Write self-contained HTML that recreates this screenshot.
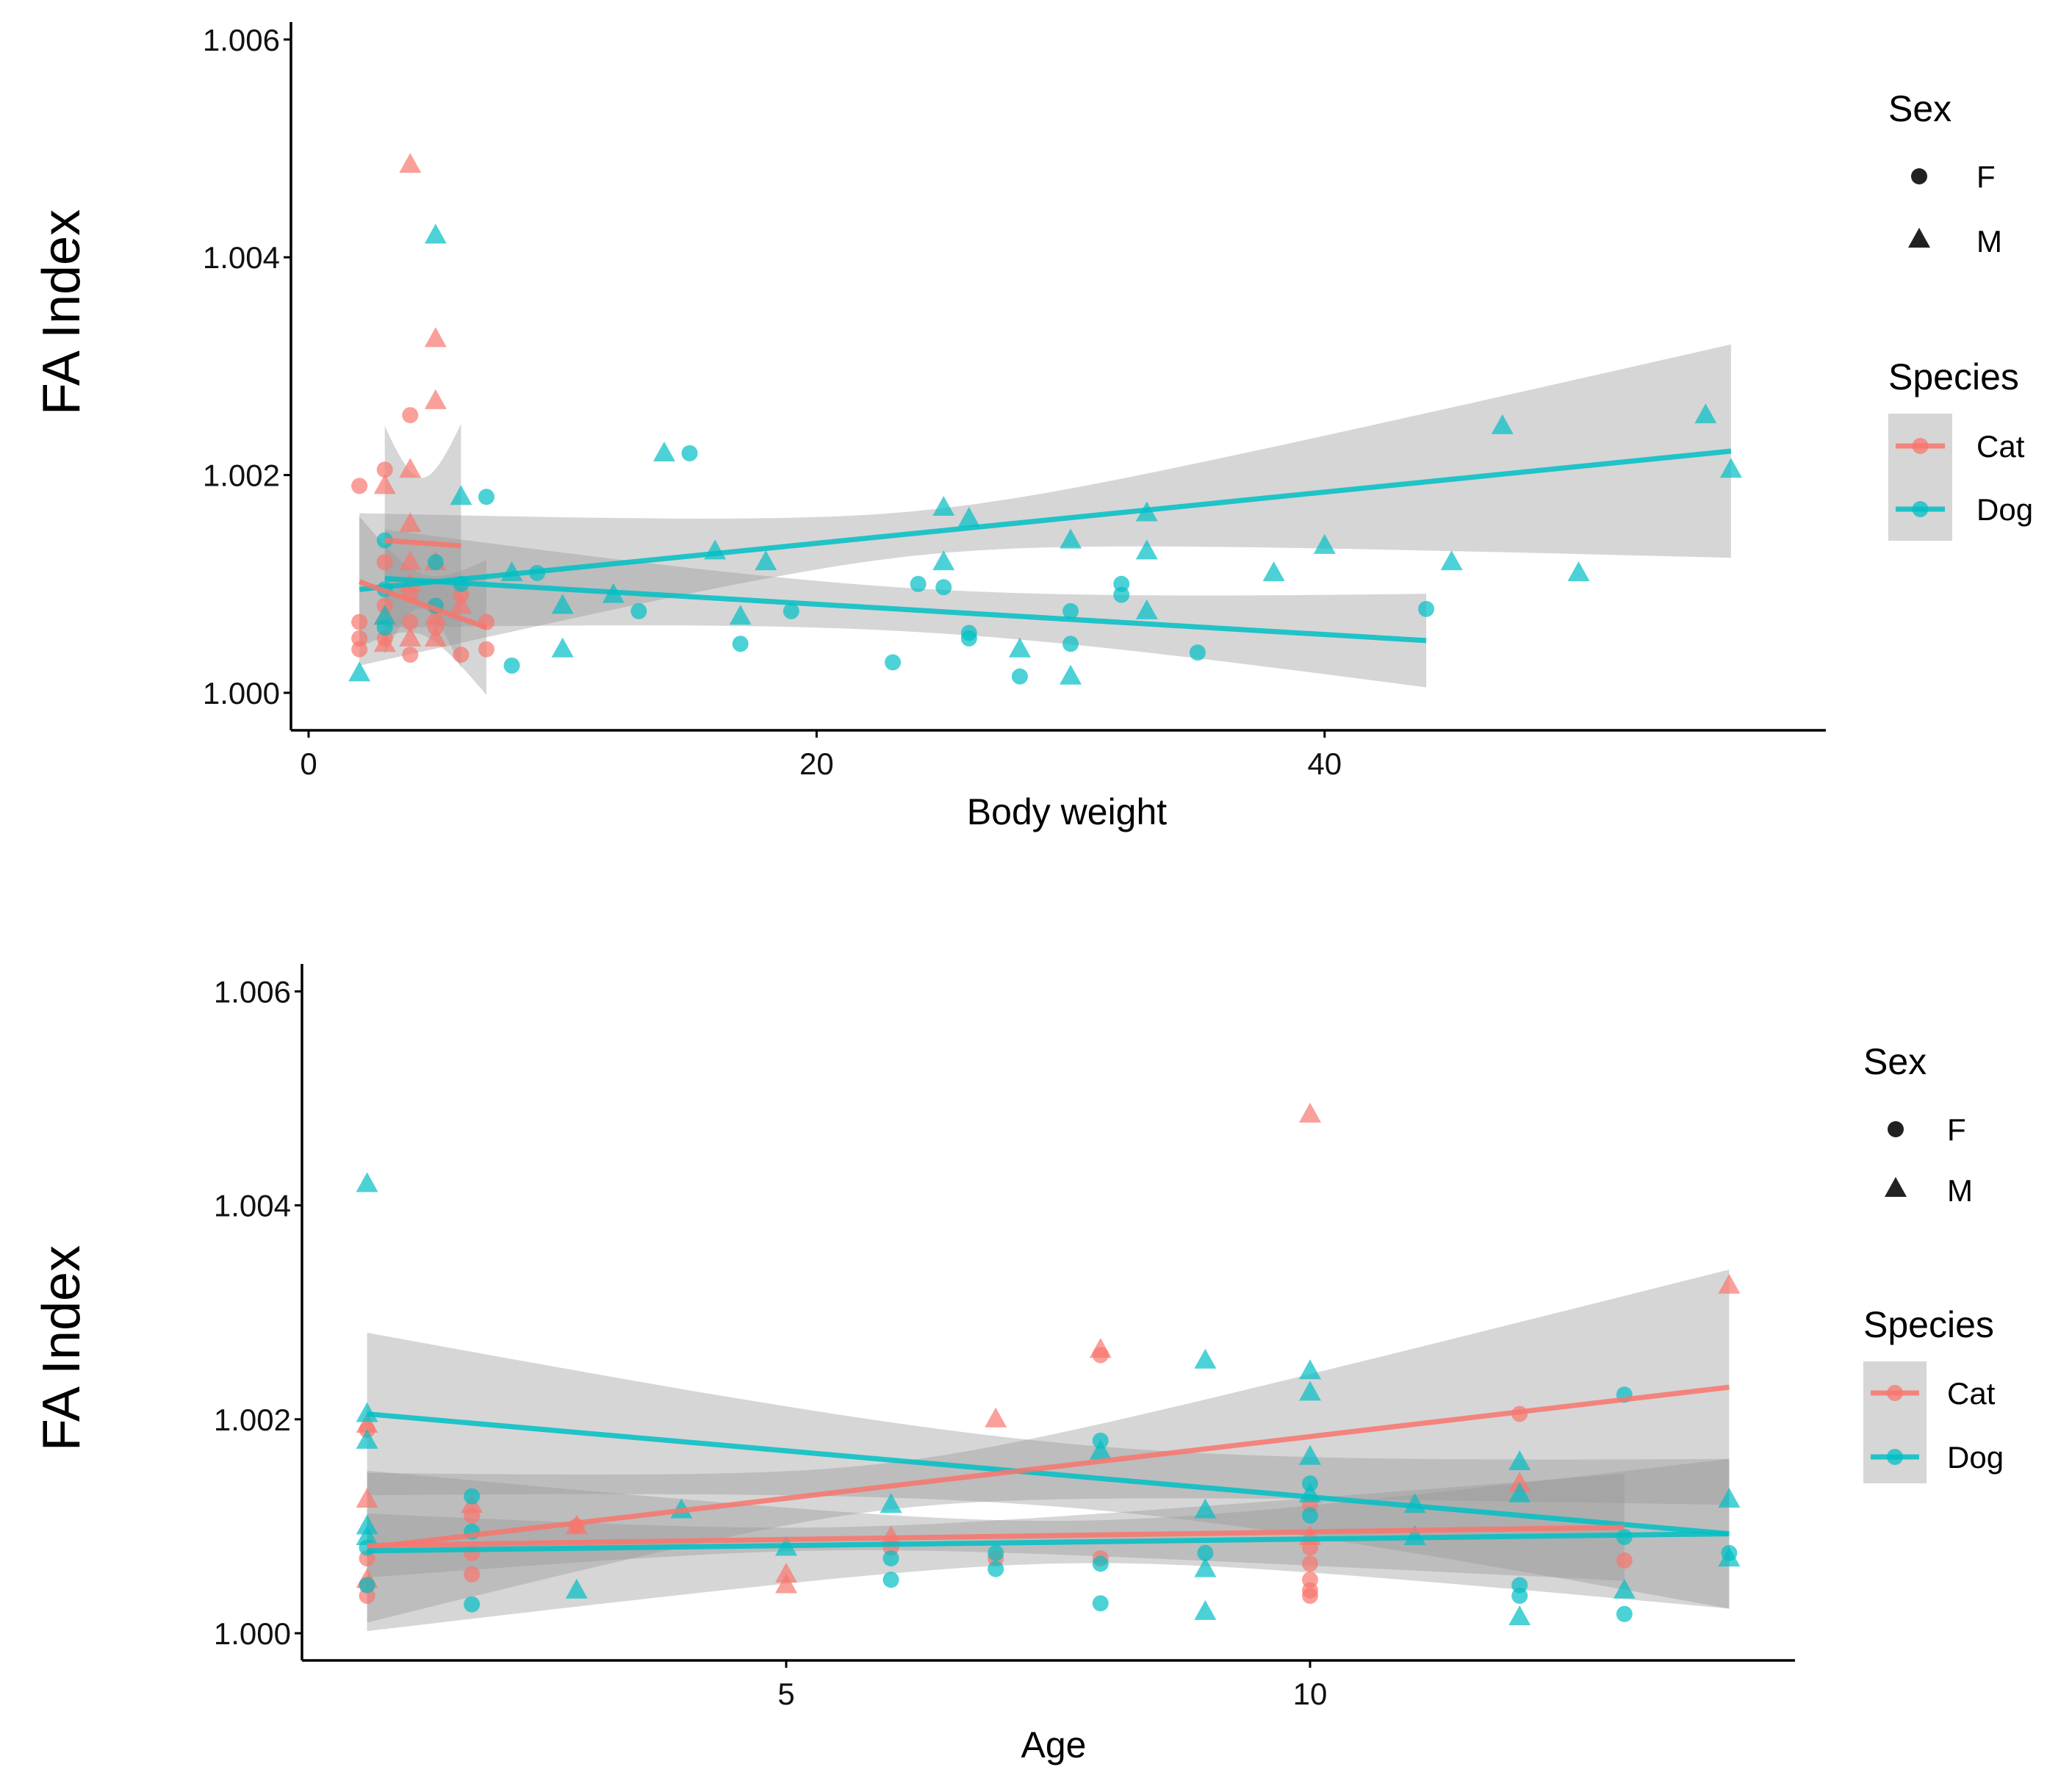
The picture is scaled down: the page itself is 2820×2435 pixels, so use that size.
<!DOCTYPE html>
<html><head><meta charset="utf-8"><style>
html,body{margin:0;padding:0;background:#fff}
svg{display:block;font-family:"Liberation Sans",Arial,sans-serif}
</style></head><body>
<svg id="chart" width="2820" height="2435" viewBox="0 0 2820 2435" xmlns="http://www.w3.org/2000/svg">
<rect width="2820" height="2435" fill="#fff"/>
<g id="top"></g>
<g id="bot"></g>
</svg>
<script>
// ---------- DATA: top panel (Body weight) ----------
const bwCatF_x=[2,3,4,2,2,2,3,3,4,4,5,6,6,7,7,3,4,5];
const bwCatF_y=[1.0019,1.00205,1.00255,1.00065,1.0005,1.0004,1.0012,1.0008,1.00065,1.00035,1.0008,1.00035,1.0009,1.00065,1.0004,1.0005,1.0009,1.0006];
const bwCatM_x=[4,5,5,4,3,4,4,5,3,3,4,5,5,6,4];
const bwCatM_y=[1.00485,1.00325,1.00268,1.00205,1.0019,1.00155,1.0012,1.0012,1.0007,1.00045,1.0005,1.0005,1.0007,1.0008,1.001];
const bwDogF_x=[3,7,15,3,3,5,5,8,9,13,17,19,23,24,25,26,26,28,30,30,32,32,35,44,6];
const bwDogF_y=[1.0014,1.0018,1.0022,1.00095,1.0006,1.0012,1.0008,1.00025,1.0011,1.00075,1.00045,1.00075,1.00028,1.001,1.00097,1.00055,1.0005,1.00015,1.00075,1.00045,1.001,1.0009,1.00037,1.00077,1.001];
const bwDogM_x=[2,5,14,6,3,8,10,10,12,16,17,18,25,25,26,28,30,30,33,33,33,38,40,45,47,50,55,56];
const bwDogM_y=[1.00018,1.0042,1.0022,1.0018,1.0007,1.0011,1.0008,1.0004,1.0009,1.0013,1.0007,1.0012,1.0017,1.0012,1.0016,1.0004,1.0014,1.00015,1.00165,1.0013,1.00075,1.0011,1.00135,1.0012,1.00245,1.0011,1.00255,1.00205];
// fits: [xStart, xEnd, yStart, yEnd, halfStart, halfMid, halfEnd]
const bwFitCatM=[3,6,1.0014,1.00135,0.00105,0.0006,0.00112];
const bwFitCatF=[2,7,1.00102,1.0006,0.0006,0.00028,0.00062];
const bwFitDogM=[2,56,1.00095,1.00222,0.0007,0.00025,0.00098];
const bwFitDogF=[3,44,1.00105,1.00048,0.00045,0.0002,0.00043];
const bwXTicks=[0,20,40];
const yTicks=[1.000,1.002,1.004,1.006];
// ---------- DATA: bottom panel (Age) ----------
const agCatF_x=[1,1,1,1,2,2,2,3,6,7,8,8,10,10,10,10,10,12,13,10];
const agCatF_y=[1.0019,1.0007,1.00045,1.00035,1.0011,1.00075,1.00055,1.001,1.0008,1.0007,1.0026,1.0007,1.0008,1.00065,1.0005,1.0004,1.00035,1.00205,1.00068,1.0012];
const agCatM_x=[1,1,1,2,3,5,5,6,7,8,10,10,14,12];
const agCatM_y=[1.00195,1.00125,1.0005,1.0012,1.001,1.00055,1.00045,1.0009,1.002,1.00265,1.00485,1.0009,1.00325,1.0014];
const agDogF_x=[1,1,2,2,2,6,6,7,7,8,8,8,9,10,10,12,12,13,13,13,14];
const agDogF_y=[1.0008,1.00045,1.00128,1.00095,1.00027,1.0007,1.0005,1.00075,1.0006,1.0018,1.00065,1.00028,1.00075,1.0014,1.0011,1.00045,1.00035,1.00223,1.0009,1.00018,1.00075];
const agDogM_x=[1,1,1,1,1,3,4,5,6,8,9,9,9,9,10,10,10,10,11,11,12,12,12,13,14,14];
const agDogM_y=[1.0042,1.00205,1.0018,1.001,1.0009,1.0004,1.00115,1.0008,1.0012,1.0017,1.00255,1.00115,1.0006,1.0002,1.00245,1.00225,1.00165,1.0013,1.0012,1.0009,1.0016,1.0013,1.00015,1.0004,1.00125,1.0007];
const agFitDogM=[1,14,1.00205,1.00093,0.00076,0.0003,0.0007];
const agFitCatM=[1,14,1.0008,1.0023,0.0007,0.0003,0.0011];
const agFitCatF=[1,13,1.00082,1.00099,0.0003,0.00015,0.0005];
const agFitDogF=[1,14,1.00077,1.00093,0.00075,0.0002,0.0007];
const agXTicks=[5,10];

const NS='http://www.w3.org/2000/svg';
const CAT='#F8766D', DOG='#00BFC4';
function mk(tag,attrs,parent){const e=document.createElementNS(NS,tag);for(const k in attrs)e.setAttribute(k,attrs[k]);parent.appendChild(e);return e;}

function panel(g,cfg){
  const X=v=>cfg.x0+(v-cfg.xv0)*cfg.xs;
  const Y=v=>cfg.y0-(v-1.000)/0.001*cfg.ys;
  cfg.fits.forEach(f=>{
    const [a,b,ya,yb,h0,hm,h1]=f.d;
    const n=40, up=[], lo=[];
    for(let i=0;i<=n;i++){
      const t=i/n, x=a+(b-a)*t, y=ya+(yb-ya)*t;
      const w2=h0*h0*2*(t-0.5)*(t-1)+hm*hm*(-4)*t*(t-1)+h1*h1*2*t*(t-0.5);
      const w=Math.sqrt(Math.max(w2,0));
      up.push(X(x).toFixed(1)+','+Y(y+w).toFixed(1));
      lo.unshift(X(x).toFixed(1)+','+Y(y-w).toFixed(1));
    }
    const p=mk('polygon',{points:up.concat(lo).join(' '),fill:'#999999','fill-opacity':0.4},g);
    
    
  });
  cfg.series.forEach(s=>{
    s.xs.forEach((xv,i)=>{
      const cx=X(xv), cy=Y(s.ys[i]);
      let e;
      if(s.shape==='c') e=mk('circle',{cx:cx,cy:cy,r:11,fill:s.col,'fill-opacity':0.7},g);
      else e=mk('polygon',{points:`${cx},${cy-16} ${cx+15},${cy+11} ${cx-15},${cy+11}`,fill:s.col,'fill-opacity':0.7},g);
      
      
    });
  });
  cfg.fits.forEach(f=>{
    const [a,b,ya,yb]=f.d;
    const l=mk('line',{x1:X(a),y1:Y(ya),x2:X(b),y2:Y(yb),stroke:f.col,'stroke-width':7,'stroke-opacity':0.85},g);
    
    
  });
  const ya=mk('line',{x1:cfg.ax,y1:cfg.ytop,x2:cfg.ax,y2:cfg.ay,stroke:'#000','stroke-width':3.5},g);
  
  
  const xa=mk('line',{x1:cfg.ax,y1:cfg.ay,x2:cfg.xend,y2:cfg.ay,stroke:'#000','stroke-width':3.5},g);
  
  
  yTicks.forEach(v=>{
    const y=Y(v);
    const t=mk('line',{x1:cfg.ax-10,y1:y,x2:cfg.ax,y2:y,stroke:'#000','stroke-width':3},g);
    
    
    const tx=mk('text',{x:cfg.ax-15,y:y+15,'font-size':42,'text-anchor':'end',fill:'#111'},g);
    tx.textContent=v.toFixed(3);
    
    
  });
  cfg.xticks.forEach(v=>{
    const x=X(v);
    const t=mk('line',{x1:x,y1:cfg.ay,x2:x,y2:cfg.ay+10,stroke:'#000','stroke-width':3},g);
    
    
    const tx=mk('text',{x:x,y:cfg.ay+60,'font-size':42,'text-anchor':'middle',fill:'#111'},g);
    tx.textContent=v;
    
    
  });
  const xt=mk('text',{x:cfg.xtx,y:cfg.xty,'font-size':50,'text-anchor':'middle',fill:'#000'},g);
  xt.textContent=cfg.xtitle;
  
  
  const yt=mk('text',{x:0,y:0,'font-size':72,'text-anchor':'middle',fill:'#000',transform:`translate(108,${cfg.ytc}) rotate(-90)`},g);
  yt.textContent='FA Index';
  
  
  const L=cfg.leg;
  const st=mk('text',{x:L.x,y:L.sexY,'font-size':50,fill:'#000'},g);
  st.textContent='Sex';
  
  
  const kx=L.x+L.kx;
  const c=mk('circle',{cx:kx,cy:L.fY,r:11,fill:'#222'},g);
  
  
  const tr=mk('polygon',{points:`${kx},${L.mY-16} ${kx+15},${L.mY+11} ${kx-15},${L.mY+11}`,fill:'#222'},g);
  
  
  const ft=mk('text',{x:L.tx,y:L.fY+15,'font-size':42,fill:'#000'},g);
  ft.textContent='F';
  
  
  const mt=mk('text',{x:L.tx,y:L.mY+17,'font-size':42,fill:'#000'},g);
  mt.textContent='M';
  
  
  const spt=mk('text',{x:L.x,y:L.spY,'font-size':50,fill:'#000'},g);
  spt.textContent='Species';
  
  
  const bx=mk('rect',{x:L.x,y:L.boxY,width:L.boxW,height:L.boxH,fill:'#d6d6d6'},g);
  
  
  [[L.catY,CAT,'Cat'],[L.dogY,DOG,'Dog']].forEach(([yy,col,lab])=>{
    const ln=mk('line',{x1:L.x+10,y1:yy,x2:L.x+L.boxW-10,y2:yy,stroke:col,'stroke-width':7,'stroke-opacity':0.85},g);
    
    
    const d=mk('circle',{cx:L.x+L.boxW/2,cy:yy,r:11,fill:col,'fill-opacity':0.75},g);
    
    
    const t=mk('text',{x:L.tx,y:yy+15,'font-size':42,fill:'#000'},g);
    t.textContent=lab;
    
    
  });
}

panel(document.getElementById('top'),{
  x0:420,xv0:0,xs:34.57,y0:943,ys:148.2,ax:396,ay:994,ytop:30,xend:2485,
  xticks:bwXTicks,xtitle:'Body weight',xtx:1452,xty:1122,ytc:425,
  fits:[{d:bwFitDogM,col:DOG,name:'dog-m'},{d:bwFitDogF,col:DOG,name:'dog-f'},{d:bwFitCatM,col:CAT,name:'cat-m'},{d:bwFitCatF,col:CAT,name:'cat-f'}],
  series:[{xs:bwCatF_x,ys:bwCatF_y,shape:'c',col:CAT,name:'cat-f'},{xs:bwCatM_x,ys:bwCatM_y,shape:'t',col:CAT,name:'cat-m'},
          {xs:bwDogF_x,ys:bwDogF_y,shape:'c',col:DOG,name:'dog-f'},{xs:bwDogM_x,ys:bwDogM_y,shape:'t',col:DOG,name:'dog-m'}],
  leg:{x:2570,kx:42,tx:2690,sexY:165,fY:240,mY:326,spY:530,boxY:563,boxW:87,boxH:173,catY:607,dogY:693}
});
panel(document.getElementById('bot'),{
  x0:1070,xv0:5,xs:142.6,y0:2223,ys:145.6,ax:411,ay:2260,ytop:1312,xend:2443,
  xticks:agXTicks,xtitle:'Age',xtx:1434,xty:2392,ytc:1835,
  fits:[{d:agFitDogM,col:DOG,name:'dog-m'},{d:agFitCatM,col:CAT,name:'cat-m'},{d:agFitCatF,col:CAT,name:'cat-f'},{d:agFitDogF,col:DOG,name:'dog-f'}],
  series:[{xs:agCatF_x,ys:agCatF_y,shape:'c',col:CAT,name:'cat-f'},{xs:agCatM_x,ys:agCatM_y,shape:'t',col:CAT,name:'cat-m'},
          {xs:agDogF_x,ys:agDogF_y,shape:'c',col:DOG,name:'dog-f'},{xs:agDogM_x,ys:agDogM_y,shape:'t',col:DOG,name:'dog-m'}],
  leg:{x:2536,kx:44,tx:2650,sexY:1462,fY:1537,mY:1618,spY:1820,boxY:1853,boxW:86,boxH:166,catY:1896,dogY:1983}
});
</script>
</body></html>
